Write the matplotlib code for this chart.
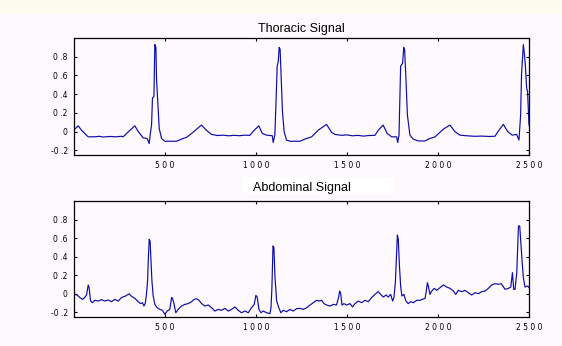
import matplotlib
matplotlib.use("Agg")
import matplotlib.pyplot as plt
from matplotlib.patches import Rectangle

# Thoracic signal (sample index, amplitude)
thor_x = [0, 24, 42, 79, 120, 140, 160, 200, 230, 260, 271, 290, 335, 353, 381, 403, 414, 419,
          427, 432, 440, 445, 451, 454, 460, 469, 482, 500, 564, 600, 620, 647, 701, 728, 756,
          790, 820, 850, 880, 910, 940, 967, 985, 1016, 1035, 1059, 1090, 1095, 1104, 1110,
          1117, 1123, 1128, 1133, 1139, 1146, 1155, 1168, 1187, 1242, 1269, 1306, 1342, 1388,
          1416, 1434, 1470, 1500, 1530, 1560, 1590, 1620, 1654, 1672, 1699, 1721, 1746, 1773,
          1779, 1786, 1795, 1806, 1812, 1817, 1824, 1832, 1846, 1864, 1892, 1930, 1947, 1984,
          2029, 2066, 2093, 2121, 2160, 2200, 2240, 2280, 2313, 2335, 2359, 2383, 2408, 2432,
          2445, 2454, 2459, 2469, 2474, 2480, 2487, 2492, 2500]
thor_y = [0.015, 0.062, 0.015, -0.056, -0.055, -0.05, -0.058, -0.052, -0.056, -0.05, -0.055,
          -0.02, 0.062, 0.003, -0.067, -0.074, -0.128, -0.038, 0.07, 0.358, 0.375, 0.93, 0.897,
          0.573, 0.358, 0.034, -0.074, -0.103, -0.103, -0.074, -0.06, -0.02, 0.07, 0.015, -0.03,
          -0.042, -0.038, -0.045, -0.04, -0.044, -0.038, -0.04, 0.003, 0.062, -0.02, -0.038,
          -0.044, -0.117, -0.038, 0.285, 0.70, 0.75, 0.90, 0.88, 0.573, 0.213, 0.0, -0.09,
          -0.103, -0.103, -0.08, -0.056, 0.015, 0.077, -0.009, -0.03, -0.04, -0.035, -0.045,
          -0.04, -0.048, -0.042, -0.04, 0.015, 0.07, -0.02, -0.056, -0.056, -0.117, -0.038,
          0.70, 0.73, 0.90, 0.87, 0.573, 0.18, -0.038, -0.08, -0.10, -0.10, -0.08, -0.056,
          0.025, 0.07, 0.0, -0.038, -0.045, -0.05, -0.048, -0.052, -0.05, 0.015, 0.077, 0.0,
          -0.038, -0.03, -0.09, 0.18, 0.61, 0.93, 0.84, 0.71, 0.465, 0.43, 0.07]

# Abdominal signal
abd_x = [0, 5, 18, 33, 48, 60, 70, 79, 84, 92, 103, 115, 134, 152, 170, 189, 207, 225, 244,
         262, 281, 293, 304, 317, 335, 354, 366, 377, 385, 392, 399, 405, 410, 414, 419, 423,
         429, 436, 445, 458, 473, 487, 500, 513, 527, 537, 542, 550, 560, 573, 591, 610, 628,
         647, 661, 674, 687, 702, 720, 738, 757, 775, 793, 811, 830, 848, 866, 885, 903, 921,
         940, 958, 976, 991, 1000, 1007, 1017, 1028, 1040, 1059, 1077, 1083, 1088, 1094, 1099,
         1105, 1114, 1126, 1137, 1150, 1169, 1187, 1205, 1224, 1242, 1260, 1279, 1297, 1315,
         1334, 1348, 1361, 1374, 1389, 1407, 1425, 1443, 1454, 1460, 1465, 1473, 1484, 1498,
         1517, 1531, 1544, 1563, 1581, 1599, 1617, 1636, 1654, 1672, 1685, 1700, 1715, 1727,
         1740, 1751, 1758, 1766, 1773, 1777, 1782, 1788, 1795, 1802, 1813, 1824, 1837, 1850,
         1865, 1883, 1901, 1929, 1936, 1942, 1947, 1956, 1966, 1980, 1993, 2011, 2030, 2048,
         2066, 2085, 2097, 2112, 2130, 2149, 2167, 2185, 2204, 2222, 2240, 2259, 2277, 2295,
         2314, 2332, 2347, 2357, 2368, 2387, 2400, 2409, 2416, 2423, 2433, 2442, 2449, 2455,
         2462, 2469, 2478, 2493, 2500]
abd_y = [0.059, -0.006, -0.013, -0.04, -0.06, -0.04, -0.013, 0.095, 0.066, -0.078, -0.096,
         -0.07, -0.078, -0.063, -0.078, -0.067, -0.085, -0.06, -0.078, -0.04, -0.027, -0.013,
         0.0, -0.027, -0.049, -0.085, -0.106, -0.096, -0.132, -0.106, -0.006, 0.138, 0.408,
         0.587, 0.569, 0.39, 0.138, -0.024, -0.114, -0.15, -0.168, -0.178, -0.222, -0.186,
         -0.168, -0.04, -0.049, -0.106, -0.204, -0.168, -0.132, -0.114, -0.106, -0.085, -0.06,
         -0.053, -0.07, -0.106, -0.132, -0.121, -0.15, -0.186, -0.168, -0.178, -0.157, -0.186,
         -0.168, -0.142, -0.178, -0.204, -0.186, -0.204, -0.15, -0.114, -0.017, -0.035, -0.168,
         -0.204, -0.186, -0.204, -0.214, -0.15, 0.066, 0.515, 0.497, 0.174, -0.078, -0.15,
         -0.204, -0.178, -0.193, -0.168, -0.186, -0.16, -0.157, -0.168, -0.15, -0.121, -0.096,
         -0.07, -0.078, -0.07, -0.106, -0.121, -0.132, -0.114, -0.121, -0.04, 0.03, 0.012,
         -0.121, -0.106, -0.121, -0.106, -0.142, -0.106, -0.078, -0.096, -0.07, -0.085, -0.04,
         -0.006, 0.023, -0.006, -0.035, -0.013, -0.035, -0.006, -0.078, -0.04, 0.12, 0.462,
         0.634, 0.587, 0.318, 0.084, -0.024, -0.006, -0.078, -0.106, -0.085, -0.096, -0.07,
         -0.07, -0.049, 0.03, 0.12, 0.084, -0.006, 0.03, 0.059, 0.037, 0.066, 0.095, 0.073,
         0.059, 0.03, -0.006, 0.037, 0.023, 0.037, 0.012, -0.013, 0.012, 0.001, 0.023, 0.03,
         0.059, 0.095, 0.109, 0.102, 0.109, 0.084, 0.048, 0.059, 0.073, 0.228, 0.048, 0.048,
         0.228, 0.731, 0.731, 0.552, 0.354, 0.174, 0.073, 0.084, 0.066]

titles = ["Thoracic Signal", "Abdominal Signal"]
x_ticks = [500, 1000, 1500, 2000, 2500]
y_ticks = [-0.2, 0, 0.2, 0.4, 0.6, 0.8]
y_labels = ["-0 .2", "0", "0 .2", "0 .4", "0 .6", "0 .8"]

bg = "#fdf9fd"
line_col = "#0c0ca8"

fig = plt.figure(figsize=(5.62, 3.46), dpi=100, facecolor=bg)
# pale yellow strip at the top of the window
fig.patches.append(Rectangle((0, 1 - 13 / 346), 1, 13 / 346, transform=fig.transFigure,
                             facecolor="#fdfcec", edgecolor="none", zorder=-1))
# white box left behind the lower title
fig.patches.append(Rectangle((243 / 562, 1 - 193 / 346), 150 / 562, 16 / 346,
                             transform=fig.transFigure, facecolor="white",
                             edgecolor="none", zorder=-1))

ax1 = fig.add_axes([74 / 562, 1 - 155 / 346, 455 / 562, 117 / 346])
ax2 = fig.add_axes([74 / 562, 1 - 317 / 346, 455 / 562, 116 / 346])

ax1.plot(thor_x, thor_y, color=line_col, lw=0.85)
ax2.plot(abd_x, abd_y, color=line_col, lw=0.85)

for ax, title, pad in [(ax1, titles[0], 4), (ax2, titles[1], 7.5)]:
    ax.set_facecolor(bg)
    ax.set_xlim(1, 2500)
    ax.set_ylim(-0.25, 1.0)
    ax.set_xticks(x_ticks)
    ax.set_xticklabels([" ".join(str(t)) for t in x_ticks])
    ax.set_yticks(y_ticks)
    ax.set_yticklabels(y_labels)
    ax.tick_params(direction="in", length=2.5, width=0.8, labelsize=5.5,
                   top=True, right=True, pad=4.5)
    for s in ax.spines.values():
        s.set_linewidth(0.9)
    ax.set_title(title, fontsize=9, family="Liberation Sans", pad=pad)

fig.savefig("out.png", dpi=100, facecolor=bg)
